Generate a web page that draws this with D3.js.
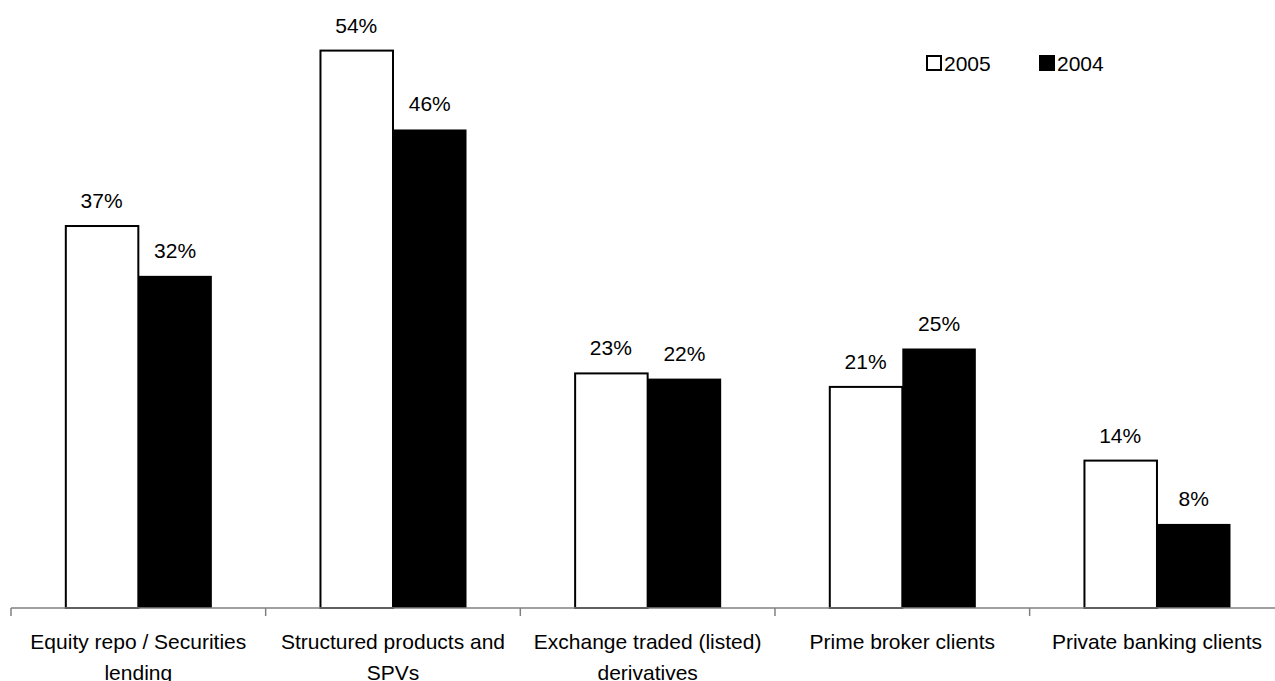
<!DOCTYPE html>
<html>
<head>
<meta charset="utf-8">
<script src="https://cdn.jsdelivr.net/npm/d3@7"></script>
<style>
body { margin: 0; background: #fff; }
text { font-family: Arial, "Liberation Sans", sans-serif; fill: #000; }
</style>
</head>
<body>
<svg width="1275" height="681"></svg>
<script>
// categories (x axis), each label split into lines
var categories = ["Equity repo / Securities lending", "Structured products and SPVs",
  "Exchange traded (listed) derivatives", "Prime broker clients", "Private banking clients"];
var categoryLines = [["Equity repo / Securities", "lending"], ["Structured products and", "SPVs"],
  ["Exchange traded (listed)", "derivatives"], ["Prime broker clients"], ["Private banking clients"]];
var seriesNames = ["2005", "2004"];
var values2005 = [36.8, 53.7, 22.6, 21.3, 14.2];
var values2004 = [32.0, 46.1, 22.1, 25.0, 8.1];

var svg = d3.select("svg"),
  width = +svg.attr("width"),
  height = +svg.attr("height");

var baseY = 608;

var x0 = d3.scaleBand()
  .domain(categories)
  .range([11, 1284.3]);

var x1 = d3.scaleBand()
  .domain(seriesNames)
  .range([0, x0.bandwidth()])
  .paddingOuter(0.732);

var y = d3.scaleLinear()
  .domain([0, 60])
  .range([baseY, baseY - 60 * 10.38]);

var data = categories.map(function (c, i) {
  return { cat: c, vals: [
    { s: "2005", v: values2005[i] },
    { s: "2004", v: values2004[i] }
  ]};
});

var groups = svg.append("g").selectAll("g")
  .data(data)
  .enter().append("g")
  .attr("transform", function (d) { return "translate(" + x0(d.cat) + ",0)"; });

groups.selectAll("rect")
  .data(function (d) { return d.vals; })
  .enter().append("rect")
  .attr("x", function (d) { return x1(d.s) + (d.s == "2005" ? 1 : 0); })
  .attr("y", function (d) { return y(d.v); })
  .attr("width", function (d) { return x1.bandwidth() - (d.s == "2005" ? 1 : 0); })
  .attr("height", function (d) { return baseY - y(d.v); })
  .attr("fill", function (d) { return d.s == "2005" ? "#fff" : "#000"; })
  .attr("stroke", "#000")
  .attr("stroke-width", function (d) { return d.s == "2005" ? 2 : 0; });

groups.selectAll("text.val")
  .data(function (d) { return d.vals; })
  .enter().append("text")
  .attr("class", "val")
  .attr("x", function (d) { return x1(d.s) + x1.bandwidth() / 2; })
  .attr("y", function (d) { return y(d.v) - 18; })
  .attr("text-anchor", "middle")
  .style("font-size", "21px")
  .text(function (d) { return Math.round(d.v) + "%"; });

// x axis
var axis = svg.append("g")
  .attr("transform", "translate(0," + baseY + ")")
  .call(d3.axisBottom(x0).tickSize(0).tickFormat(""));
axis.select(".domain").attr("stroke", "#808080").attr("stroke-width", 1.5)
  .attr("d", "M11,0H1275");

var tickPos = categories.map(function (c) { return x0(c); }).concat([x0.range()[1]]);
svg.append("g").selectAll("line")
  .data(tickPos)
  .enter().append("line")
  .attr("x1", function (d) { return d; })
  .attr("x2", function (d) { return d; })
  .attr("y1", baseY)
  .attr("y2", baseY + 8)
  .attr("stroke", "#808080")
  .attr("stroke-width", 1.5);

var catLabels = svg.append("g").selectAll("text")
  .data(categories)
  .enter().append("text")
  .attr("x", function (c) { return x0(c) + x0.bandwidth() / 2; })
  .attr("y", 649)
  .attr("text-anchor", "middle")
  .style("font-size", "21px");

catLabels.selectAll("tspan")
  .data(function (c, i) { return categoryLines[i]; })
  .enter().append("tspan")
  .attr("x", function () { return +d3.select(this.parentNode).attr("x"); })
  .attr("dy", function (d, i) { return i == 0 ? 0 : 31; })
  .text(function (d) { return d; });

// legend
var legend = svg.append("g").selectAll("g")
  .data(seriesNames)
  .enter().append("g")
  .attr("transform", function (d, i) { return "translate(" + (927 + i * 113) + ",56)"; });

legend.append("rect")
  .attr("width", 14)
  .attr("height", 14)
  .attr("fill", function (d) { return d == "2005" ? "#fff" : "#000"; })
  .attr("stroke", "#000")
  .attr("stroke-width", 2);

legend.append("text")
  .attr("x", 17)
  .attr("y", 14.5)
  .style("font-size", "21px")
  .text(function (d) { return d; });
</script>
</body>
</html>
